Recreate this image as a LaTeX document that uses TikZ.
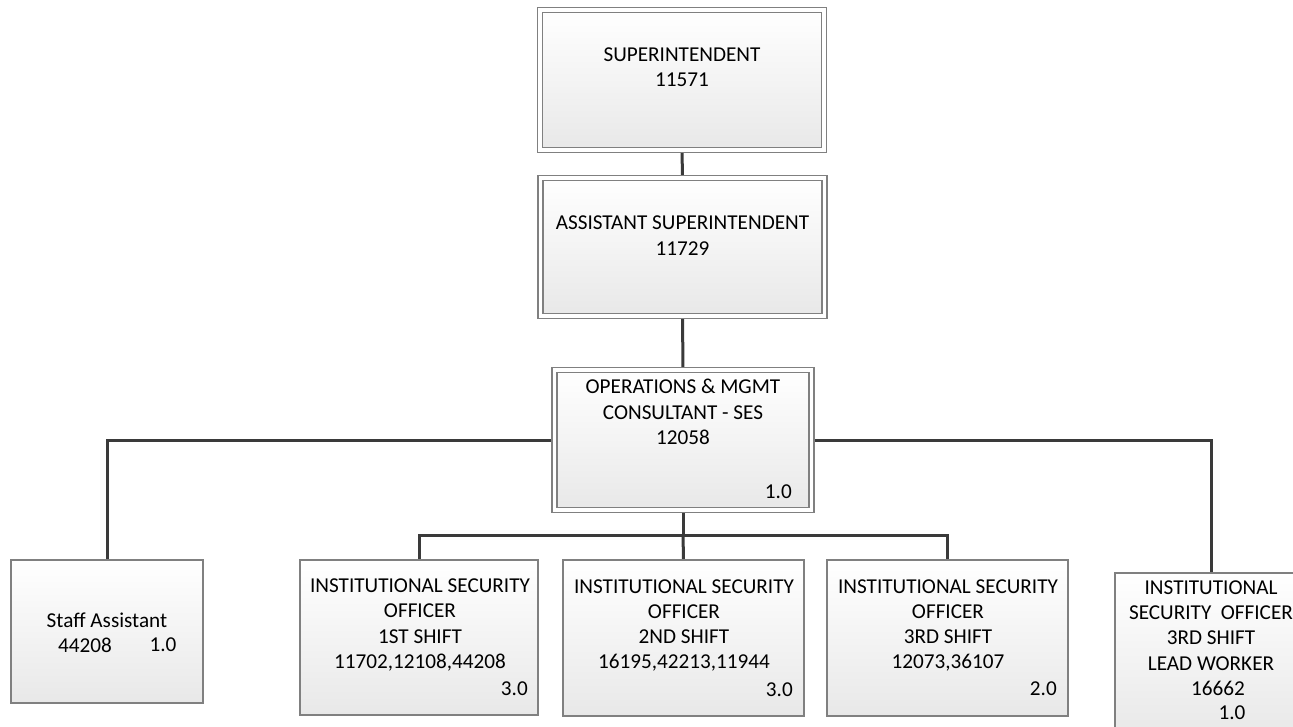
\documentclass[tikz,border=0pt]{standalone}
\usepackage{fontspec}
\setmainfont{Carlito}
\usetikzlibrary{backgrounds}
\definecolor{boxline}{RGB}{128,128,128}
\definecolor{linkline}{RGB}{58,58,58}
\definecolor{shadebot}{RGB}{232,232,232}
\tikzset{
  box/.style={rectangle, draw=boxline, line width=1.4pt, top color=white,
    bottom color=shadebot, inner sep=0pt},
  dbox/.style={box, double=white, double distance=3.6pt, line width=1.3pt},
  txt/.style={inner sep=0pt, align=center, font=\fontsize{21.2}{25.3}\selectfont},
  link/.style={draw=linkline, line width=3pt},
}
\begin{document}
\begin{tikzpicture}[x=1pt, y=-1pt]
  \useasboundingbox (0,0) rectangle (1293,726);
  \clip (0,0) rectangle (1293,726);

  % management chain
  \node[dbox, minimum width=284pt, minimum height=140pt] (sup) at (682,80) {};
  \node[dbox, minimum width=284pt, minimum height=138pt] (asst) at (682.5,247) {};
  \node[dbox, minimum width=257pt, minimum height=140pt] (ops) at (683,440) {};

  % staff boxes
  \node[box, minimum width=192pt, minimum height=143pt] (staff) at (107,631.5) {};
  \node[box, minimum width=238pt, minimum height=155pt] (iso1) at (419,637.5) {};
  \node[box, minimum width=241pt, minimum height=156pt] (iso2) at (683.5,638) {};
  \node[box, minimum width=241pt, minimum height=156pt] (iso3) at (947.5,638) {};
  \node[box, minimum width=192pt, minimum height=164pt] (lead) at (1211,655) {};

  \coordinate (bus) at (683,535);

  % connectors
  \begin{scope}[on background layer]
    \draw[link] (sup.south) -- (asst.north);
    \draw[link] (asst.south) -- (ops.north);
    \draw[link] (ops.west) -| (staff.north);
    \draw[link] (ops.east) -| (lead.north);
    \draw[link] (ops.south) -- (bus);
    \draw[link] (iso1.north) |- (bus) -| (iso3.north);
    \draw[link] (bus) -- (iso2.north);
  \end{scope}

  % texts
  \node[txt] (supT) at (682,67) {SUPERINTENDENT\\11571};
  \node[txt] (asstT) at (682.5,235.5) {ASSISTANT SUPERINTENDENT\\11729};
  \node[txt] (opsT) at (683,412) {OPERATIONS \& MGMT\\CONSULTANT - SES\\12058};
  \node[txt, anchor=east] (opsF) at (792,492) {1.0};

  \node[txt] (staffT) at (107,620) {Staff Assistant};
  \node[txt] (staffN) at (85,645) {44208};
  \node[txt] (staffF) at (163,645) {1.0};

  \node[txt] (iso1T) at (420,625) {INSTITUTIONAL SECURITY\\OFFICER\\1ST SHIFT\\11702,12108,44208};
  \node[txt, anchor=east] (iso1F) at (528,689) {3.0};
  \node[txt] (iso2T) at (684,625.5) {INSTITUTIONAL SECURITY\\OFFICER\\2ND SHIFT\\16195,42213,11944};
  \node[txt, anchor=east] (iso2F) at (793,690) {3.0};
  \node[txt] (iso3T) at (948,625.5) {INSTITUTIONAL SECURITY\\OFFICER\\3RD SHIFT\\12073,36107};
  \node[txt, anchor=east] (iso3F) at (1057,689) {2.0};

  \node[txt] (leadT) at (1211,625.5) {INSTITUTIONAL\\SECURITY\ \ OFFICER\\3RD SHIFT\\LEAD WORKER};
  \node[txt] (leadN) at (1218,688) {16662};
  \node[txt] (leadF) at (1232,713) {1.0};
\end{tikzpicture}
\end{document}
